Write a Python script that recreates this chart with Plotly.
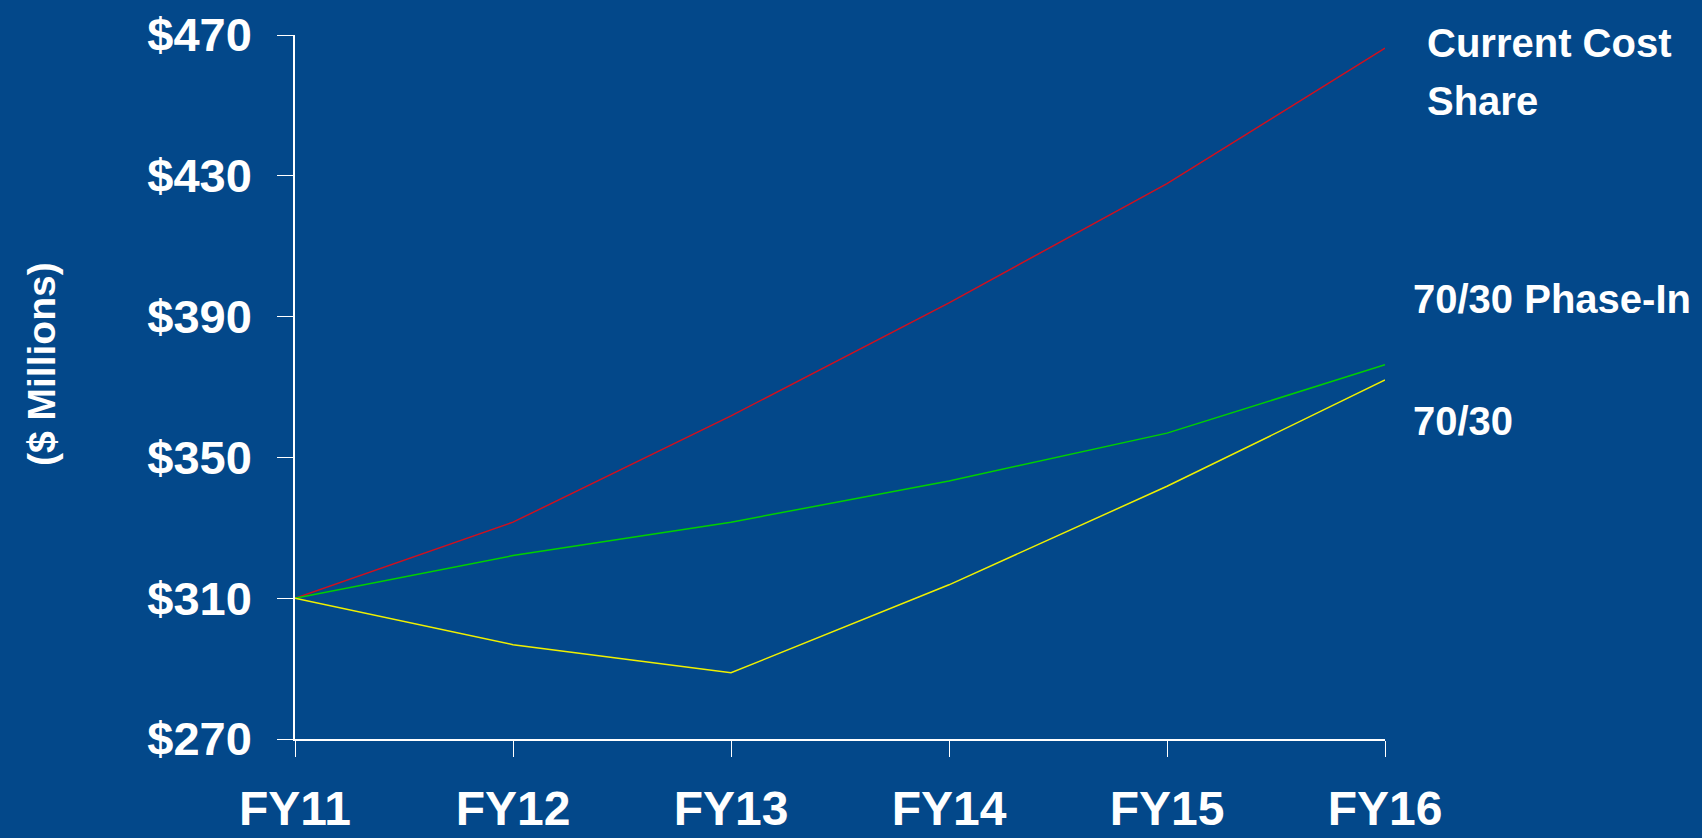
import plotly.graph_objects as go

years = ["FY11", "FY12", "FY13", "FY14", "FY15", "FY16"]
current_cost_share = [310, 331.6, 361.8, 393.9, 427.8, 466.3]
phase_in_70_30 = [310, 322.1, 331.6, 343.3, 356.9, 376.3]
split_70_30 = [310, 296.8, 288.8, 313.8, 341.8, 372.0]
y_ticks = [270, 310, 350, 390, 430, 470]
y_tick_labels = ["$270", "$310", "$350", "$390", "$430", "$470"]

BG = "#03488A"
W, H = 1702, 838
L, R, T, B = 295, 317, 35, 99
pw, ph = W - L - R, H - T - B

def px_x(x):
    return (x - L) / pw

def px_y(y):
    return (H - B - y) / ph

xs = list(range(len(years)))

fig = go.Figure()
fig.add_trace(go.Scatter(x=xs, y=current_cost_share, mode="lines",
                         line=dict(color="#D0101E", width=1.5), name="Current Cost Share"))
fig.add_trace(go.Scatter(x=xs, y=phase_in_70_30, mode="lines",
                         line=dict(color="#00D000", width=1.5), name="70/30 Phase-In"))
fig.add_trace(go.Scatter(x=xs, y=split_70_30, mode="lines",
                         line=dict(color="#F0F000", width=1.5), name="70/30"))

sans = "Liberation Sans, Arial, sans-serif"

fig.update_layout(
    width=W, height=H,
    paper_bgcolor=BG, plot_bgcolor=BG,
    margin=dict(l=L, r=R, t=T, b=B, autoexpand=False),
    showlegend=False,
    xaxis=dict(range=[0, len(years) - 1], tickvals=xs, ticktext=years, automargin=False,
               showgrid=False, zeroline=False, showline=True, linecolor="white", linewidth=1.5,
               ticks="outside", ticklen=16, tickcolor="white", tickwidth=1,
               ticklabelstandoff=11,
               tickfont=dict(family=sans, size=48, color="white", weight="bold")),
    yaxis=dict(range=[270, 470], tickvals=y_ticks, ticktext=y_tick_labels, automargin=False,
               showgrid=False, zeroline=False, showline=True, linecolor="white", linewidth=1.5,
               ticks="outside", ticklen=16, tickcolor="white", tickwidth=1,
               ticklabelstandoff=16,
               tickfont=dict(family=sans, size=47, color="white", weight="bold")),
)

ann_font = dict(family=sans, size=40, color="white", weight="bold")
fig.add_annotation(x=px_x(41), y=px_y(364), xref="paper", yref="paper", text="($ Millions)",
                   textangle=-90, showarrow=False, xanchor="center", yanchor="middle",
                   font=dict(family=sans, size=39, color="white", weight="bold"))
fig.add_annotation(x=px_x(1425), y=px_y(43), xref="paper", yref="paper", text="Current Cost",
                   showarrow=False, xanchor="left", yanchor="middle", font=ann_font)
fig.add_annotation(x=px_x(1425), y=px_y(101), xref="paper", yref="paper", text="Share",
                   showarrow=False, xanchor="left", yanchor="middle", font=ann_font)
fig.add_annotation(x=px_x(1411), y=px_y(299), xref="paper", yref="paper", text="70/30 Phase-In",
                   showarrow=False, xanchor="left", yanchor="middle", font=ann_font)
fig.add_annotation(x=px_x(1411), y=px_y(421), xref="paper", yref="paper", text="70/30",
                   showarrow=False, xanchor="left", yanchor="middle", font=ann_font)

fig.write_html("out.html")
